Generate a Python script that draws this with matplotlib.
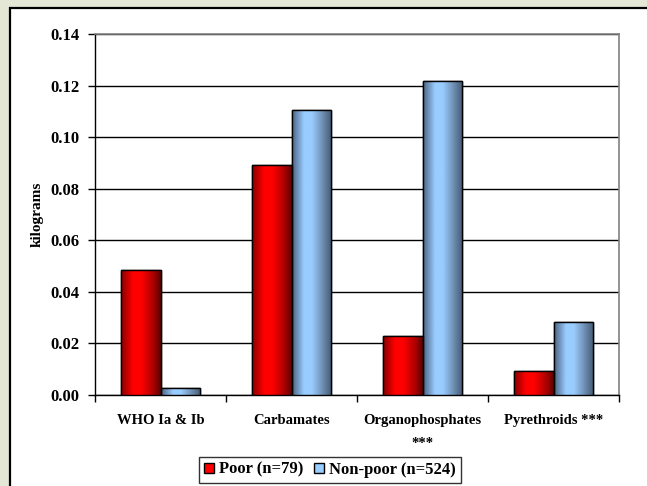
import numpy as np
import matplotlib
matplotlib.use("Agg")
import matplotlib.pyplot as plt
from matplotlib.colors import LinearSegmentedColormap
from matplotlib.patches import Rectangle, Patch

categories = ["WHO Ia & Ib", "Carbamates", "Organophosphates\n***", "Pyrethroids ***"]
poor = [0.0485, 0.0892, 0.0227, 0.0094]
nonpoor = [0.0027, 0.1104, 0.1218, 0.0282]
series_names = ["Poor (n=79)", "Non-poor (n=524)"]
yticks = [0.00, 0.02, 0.04, 0.06, 0.08, 0.10, 0.12, 0.14]

plt.rcParams['font.family'] = ['Liberation Serif', 'DejaVu Serif']
plt.rcParams['font.weight'] = 'bold'

W, H = 647, 486
fig = plt.figure(figsize=(W/100, H/100), dpi=100, facecolor='#e4e6d6')

# white chart panel
panel = Rectangle((10/W, -0.02), 1.0, 1 - 8/H + 0.02, transform=fig.transFigure,
                  facecolor='white', edgecolor='black', linewidth=1.6, zorder=-5)
fig.patches.append(panel)

ax = fig.add_axes([95/W, 1 - 395/H, (619-95)/W, (395-34)/H])
ax.set_zorder(2)
ax.set_facecolor('white')

red_cmap = LinearSegmentedColormap.from_list('r', [(0, '#8a0000'), (0.3, '#ff0000'), (0.5, '#ff0000'), (0.8, '#b00000'), (1, '#600000')])
blue_cmap = LinearSegmentedColormap.from_list('b', [(0, '#4d6584'), (0.3, '#99ccff'), (0.5, '#99ccff'), (0.8, '#6a88aa'), (1, '#435a76')])

x = np.arange(len(categories))
bw = 0.3
grad = np.linspace(0, 1, 64).reshape(1, -1)
for vals, off, cmap, col in [(poor, -bw/2, red_cmap, '#ff0000'), (nonpoor, bw/2, blue_cmap, '#99ccff')]:
    bars = ax.bar(x + off, vals, width=bw, color=col, edgecolor='black', linewidth=1.0, zorder=3)
    for b in bars:
        im = ax.imshow(grad, cmap=cmap, aspect='auto', zorder=3.5,
                       extent=[b.get_x(), b.get_x() + b.get_width(), 0, b.get_height()])
        im.set_clip_path(b)
        b2 = Rectangle((b.get_x(), 0), b.get_width(), b.get_height(), fill=False,
                       edgecolor='black', linewidth=1.0, zorder=4)
        ax.add_patch(b2)

ax.set_xlim(-0.5, len(categories) - 0.5)
ax.set_ylim(0, 0.14)
ax.set_yticks(yticks)
ax.set_yticklabels([f"{v:.2f}" for v in yticks], fontsize=12, fontweight='bold')
ax.yaxis.grid(True, color='black', linewidth=1.0, zorder=1)
ax.set_axisbelow(True)

ax.set_xticks(np.arange(-0.5, len(categories)))
ax.set_xticklabels([])
ax.set_xticks(x, minor=True)
ax.set_xticklabels(categories, minor=True, fontsize=10.5, fontweight='bold', linespacing=1.95)
ax.tick_params(axis='x', which='minor', length=0, pad=14)
ax.tick_params(axis='x', which='major', length=5, width=1, direction='out')
ax.tick_params(axis='y', length=5, width=1, direction='out', pad=6)

for s in ['top', 'right']:
    ax.spines[s].set_color('#808080')
    ax.spines[s].set_linewidth(1.2)
for s in ['left', 'bottom']:
    ax.spines[s].set_color('black')
    ax.spines[s].set_linewidth(1.0)

ax.set_ylabel('kilograms', fontsize=11, fontweight='bold', labelpad=5)

handles = [Patch(facecolor='#ff0000', edgecolor='black'), Patch(facecolor='#99ccff', edgecolor='black')]
leg = fig.legend(handles, series_names, loc='lower center', bbox_to_anchor=(330/W, 0.0),
                 ncol=2, frameon=True, fancybox=False, edgecolor='black',
                 prop={'size': 12, 'weight': 'bold'}, handlelength=0.6, handleheight=0.6,
                 handletextpad=0.3, columnspacing=0.6, borderpad=0.3, borderaxespad=0.2)
leg.get_frame().set_linewidth(1.0)

fig.savefig('out.png', dpi=100, facecolor=fig.get_facecolor())
